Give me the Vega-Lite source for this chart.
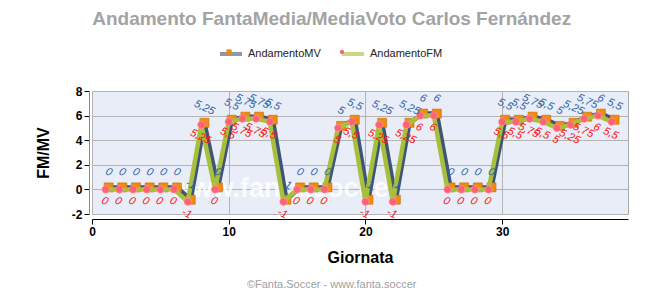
{
  "$schema": "https://vega.github.io/schema/vega-lite/v6.json",
  "padding": {"left": 34, "top": 10, "right": 5, "bottom": 4},
  "config": {
    "locale": {"number": {"decimal": ",", "thousands": ".", "grouping": [3], "currency": ["", " €"], "minus": "-"}},
    "font": "Liberation Sans",
    "view": {"stroke": null},
    "concat": {"spacing": 0}
  },
  "title": {"text": "Andamento FantaMedia/MediaVoto Carlos Fernández", "fontSize": 19, "fontWeight": "bold", "color": "#a3a3a3", "anchor": "middle", "frame": "bounds", "offset": 12},
  "datasets": {
    "d": [
      {"g": 1, "mv": 0, "fm": 0}, {"g": 2, "mv": 0, "fm": 0}, {"g": 3, "mv": 0, "fm": 0},
      {"g": 4, "mv": 0, "fm": 0}, {"g": 5, "mv": 0, "fm": 0}, {"g": 6, "mv": 0, "fm": 0},
      {"g": 7, "mv": -1, "fm": -1}, {"g": 8, "mv": 5.25, "fm": 5.25}, {"g": 9, "mv": 0, "fm": 0},
      {"g": 10, "mv": 5.5, "fm": 5.5}, {"g": 11, "mv": 5.75, "fm": 5.75}, {"g": 12, "mv": 5.75, "fm": 5.75},
      {"g": 13, "mv": 5.5, "fm": 5.5}, {"g": 14, "mv": -1, "fm": -1}, {"g": 15, "mv": 0, "fm": 0},
      {"g": 16, "mv": 0, "fm": 0}, {"g": 17, "mv": 0, "fm": 0}, {"g": 18, "mv": 5, "fm": 5},
      {"g": 19, "mv": 5.5, "fm": 5.5}, {"g": 20, "mv": -1, "fm": -1}, {"g": 21, "mv": 5.25, "fm": 5.25},
      {"g": 22, "mv": -1, "fm": -1}, {"g": 23, "mv": 5.25, "fm": 5.25}, {"g": 24, "mv": 6, "fm": 6},
      {"g": 25, "mv": 6, "fm": 6}, {"g": 26, "mv": 0, "fm": 0}, {"g": 27, "mv": 0, "fm": 0},
      {"g": 28, "mv": 0, "fm": 0}, {"g": 29, "mv": 0, "fm": 0}, {"g": 30, "mv": 5.5, "fm": 5.5},
      {"g": 31, "mv": 5.5, "fm": 5.5}, {"g": 32, "mv": 5.75, "fm": 5.75}, {"g": 33, "mv": 5.5, "fm": 5.5},
      {"g": 34, "mv": 5, "fm": 5}, {"g": 35, "mv": 5.25, "fm": 5.25}, {"g": 36, "mv": 5.75, "fm": 5.75},
      {"g": 37, "mv": 6, "fm": 6}, {"g": 38, "mv": 5.5, "fm": 5.5}
    ],
    "wm": [{"t": "www.fanta.soccer", "x": 14.1, "y": 0}]
  },
  "vconcat": [
    {
      "width": 536,
      "height": 123,
      "view": {"fill": "#e8edf7", "stroke": "#a8a8a8"},
      "title": {"text": "©Fanta.Soccer - www.fanta.soccer", "orient": "bottom", "fontSize": 11, "fontWeight": "normal", "color": "#a0a0a0", "anchor": "middle", "frame": "bounds", "offset": 14},
      "data": {"name": "d"},
      "layer": [
        {
          "data": {"name": "wm"},
          "mark": {"type": "text", "fontSize": 27, "fontWeight": "bold", "color": "#ffffff", "opacity": 0.85, "baseline": "middle", "align": "center"},
          "encoding": {
            "x": {"field": "x", "type": "quantitative", "scale": {"domain": [0, 39.2], "nice": false},
              "axis": {"values": [0, 10, 20, 30], "format": "d", "tickCount": 20, "title": "Giornata", "titleFontSize": 16, "titleFontWeight": "bold", "titleColor": "#000", "labelFontSize": 12, "labelFontWeight": "bold", "labelColor": "#000", "labelOverlap": false, "domainColor": "#000", "tickColor": "#000", "gridColor": "#b4b4b4", "offset": 5, "titlePadding": 12, "labelFlush": false}},
            "y": {"field": "y", "type": "quantitative", "scale": {"domain": [-2, 8], "nice": false},
              "axis": {"values": [-2, 0, 2, 4, 6, 8], "format": "d", "tickCount": 20, "title": "FM/MV", "titleFontSize": 16, "titleFontWeight": "bold", "titleColor": "#000", "labelFontSize": 12, "labelFontWeight": "bold", "labelColor": "#000", "labelOverlap": false, "labelFlush": false, "domainColor": "#888", "tickColor": "#000", "gridColor": "#b4b4b4", "offset": 3, "titlePadding": 20}},
            "text": {"field": "t"}
          }
        },
        {
          "mark": {"type": "line", "strokeWidth": 4.5, "xOffset": 3, "yOffset": -2, "strokeJoin": "round"},
          "encoding": {
            "x": {"field": "g", "type": "quantitative"},
            "y": {"field": "mv", "type": "quantitative"},
            "color": {"datum": "AndamentoMV", "type": "nominal",
              "scale": {"domain": ["AndamentoMV", "AndamentoFM"], "range": ["#3d5675", "#a8bf3c"]},
              "legend": {"orient": "none", "legendX": 126, "legendY": -50, "direction": "horizontal", "title": null, "symbolType": "stroke", "symbolStrokeWidth": 4, "symbolSize": 484, "symbolOpacity": 0.6, "labelFontSize": 11, "labelColor": "#222", "labelOffset": 4, "columnPadding": 13}}
          }
        },
        {
          "mark": {"type": "point", "filled": true, "opacity": 1, "xOffset": 3, "yOffset": -2, "size": 1400, "stroke": "#c86a00", "strokeWidth": 0.6},
          "encoding": {
            "x": {"field": "g", "type": "quantitative"},
            "y": {"field": "mv", "type": "quantitative"},
            "fill": {"datum": "AndamentoMV", "type": "nominal",
              "scale": {"domain": ["AndamentoFM", "AndamentoMV"], "range": ["#ff6272", "#f28a10"]},
              "legend": {"orient": "none", "legendX": 126, "legendY": -50, "direction": "horizontal", "title": null, "values": ["AndamentoMV", "AndamentoFM"], "symbolSize": 484, "labelExpr": "''", "labelFontSize": 11, "labelOffset": 4, "columnPadding": 87, "symbolStrokeWidth": 0}},
            "shape": {"datum": "AndamentoMV", "type": "nominal",
              "scale": {"domain": ["AndamentoFM", "AndamentoMV"], "range": ["M0.2,0A0.2,0.2,0,1,1,-0.2,0A0.2,0.2,0,1,1,0.2,0Z", "M-0.24,-0.24H0.24V0.24H-0.24Z"]}}
          }
        },
        {
          "mark": {"type": "line", "strokeWidth": 4.5, "strokeJoin": "round"},
          "encoding": {
            "x": {"field": "g", "type": "quantitative"},
            "y": {"field": "fm", "type": "quantitative"},
            "color": {"datum": "AndamentoFM", "type": "nominal"}
          }
        },
        {
          "mark": {"type": "point", "filled": true, "opacity": 1, "size": 1400, "stroke": "#ffa0aa", "strokeWidth": 0.6},
          "encoding": {
            "x": {"field": "g", "type": "quantitative"},
            "y": {"field": "fm", "type": "quantitative"},
            "fill": {"datum": "AndamentoFM", "type": "nominal"},
            "shape": {"datum": "AndamentoFM", "type": "nominal"}
          }
        },
        {
          "mark": {"type": "text", "angle": 25, "fontStyle": "italic", "fontSize": 11, "color": "#2f64a8", "xOffset": 3, "yOffset": -17, "align": "center", "baseline": "middle"},
          "encoding": {
            "x": {"field": "g", "type": "quantitative"},
            "y": {"field": "mv", "type": "quantitative"},
            "text": {"field": "mv", "type": "quantitative", "format": "~r"}
          }
        },
        {
          "mark": {"type": "text", "angle": 25, "fontStyle": "italic", "fontSize": 11, "color": "#ff1010", "xOffset": -1, "yOffset": 12, "align": "center", "baseline": "middle"},
          "encoding": {
            "x": {"field": "g", "type": "quantitative"},
            "y": {"field": "fm", "type": "quantitative"},
            "text": {"field": "fm", "type": "quantitative", "format": "~r"}
          }
        }
      ]
    }
  ]
}
